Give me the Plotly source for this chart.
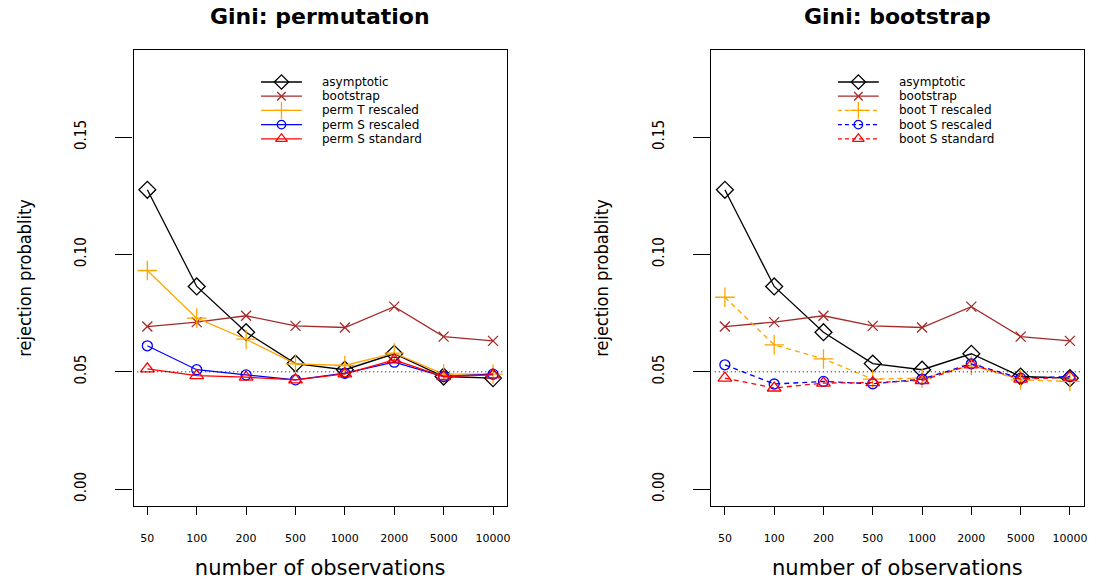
import plotly.graph_objects as go

# ---------------- data ----------------
obs_labels = ["50", "100", "200", "500", "1000", "2000", "5000", "10000"]

asymptotic      = [0.1276, 0.0864, 0.0669, 0.0535, 0.0509, 0.0577, 0.0480, 0.0473]
bootstrap       = [0.0693, 0.0712, 0.0739, 0.0696, 0.0689, 0.0778, 0.0650, 0.0632]

perm_T_rescaled = [0.0932, 0.0729, 0.0639, 0.0534, 0.0527, 0.0580, 0.0490, 0.0490]
perm_S_rescaled = [0.0611, 0.0509, 0.0487, 0.0466, 0.0494, 0.0541, 0.0480, 0.0490]
perm_S_standard = [0.0513, 0.0484, 0.0477, 0.0466, 0.0491, 0.0551, 0.0480, 0.0487]

boot_T_rescaled = [0.0818, 0.0615, 0.0555, 0.0469, 0.0473, 0.0527, 0.0466, 0.0459]
boot_S_rescaled = [0.0530, 0.0448, 0.0459, 0.0449, 0.0469, 0.0534, 0.0473, 0.0480]
boot_S_standard = [0.0473, 0.0431, 0.0452, 0.0454, 0.0463, 0.0530, 0.0469, 0.0477]

nominal_level = 0.05
y_tick_vals = [0.00, 0.05, 0.10, 0.15]
y_tick_text = ["0.00", "0.05", "0.10", "0.15"]

panel_titles = ["Gini: permutation", "Gini: bootstrap"]
x_title = "number of observations"
y_title = "rejection probablity"

# ---------------- styles ----------------
W, H = 1097, 580
BROWN = "#A52A2A"
ORANGE = "#FFA500"
styles = {
    "asym":  dict(color="black", symbol="diamond-open", size=13),
    "boot":  dict(color=BROWN, symbol="x-thin-open", size=10),
    "T":     dict(color=ORANGE, symbol="cross-thin-open", size=14),
    "Sres":  dict(color="blue", symbol="circle-open", size=10),
    "Sstd":  dict(color="red", symbol="triangle-up-open", size=12),
}

panels = [
    dict(series=[("asymptotic", asymptotic, "asym", "solid"),
                 ("bootstrap", bootstrap, "boot", "solid"),
                 ("perm T rescaled", perm_T_rescaled, "T", "solid"),
                 ("perm S rescaled", perm_S_rescaled, "Sres", "solid"),
                 ("perm S standard", perm_S_standard, "Sstd", "solid")],
         xa="x", ya="y", dom=[134 / W, 508.7 / W], leg_x=262, text_x=322),
    dict(series=[("asymptotic", asymptotic, "asym", "solid"),
                 ("bootstrap", bootstrap, "boot", "solid"),
                 ("boot T rescaled", boot_T_rescaled, "T", "5px,4px"),
                 ("boot S rescaled", boot_S_rescaled, "Sres", "5px,4px"),
                 ("boot S standard", boot_S_standard, "Sstd", "5px,4px")],
         xa="x2", ya="y2", dom=[713.7 / W, 1087.7 / W], leg_x=841, text_x=901),
]

fig = go.Figure()
LW = 1.3
leg_rows = [82.0, 96.2, 110.4, 124.6, 138.8]
annotations = []
shapes = []

for pi, p in enumerate(panels):
    for name, vals, key, dash in p["series"]:
        st = styles[key]
        fig.add_trace(go.Scatter(
            x=obs_labels, y=vals, mode="lines+markers", name=name,
            xaxis=p["xa"], yaxis=p["ya"], showlegend=False,
            line=dict(color=st["color"], width=LW, dash=dash),
            marker=dict(symbol=st["symbol"], size=st["size"], color=st["color"],
                        line=dict(color=st["color"], width=LW)),
        ))
    # nominal level reference line
    shapes.append(dict(type="line", xref=p["xa"] + " domain", yref=p["ya"],
                       x0=0.01, x1=0.995, y0=nominal_level, y1=nominal_level,
                       line=dict(color="black", width=1, dash="1px,3px")))
    # manual legend (pixel overlay axis)
    for (name, vals, key, dash), ry in zip(p["series"], leg_rows):
        st = styles[key]
        x0, x1 = p["leg_x"], p["leg_x"] + 41
        fig.add_trace(go.Scatter(
            x=[x0, (x0 + x1) / 2, x1], y=[ry, ry, ry], mode="lines",
            xaxis="x3", yaxis="y3", showlegend=False, hoverinfo="skip",
            line=dict(color=st["color"], width=LW, dash=("4px,3px" if dash != "solid" else "solid"))))
        fig.add_trace(go.Scatter(
            x=[(x0 + x1) / 2], y=[ry], mode="markers",
            xaxis="x3", yaxis="y3", showlegend=False, hoverinfo="skip",
            marker=dict(symbol=st["symbol"], size=st["size"] * 0.85, color=st["color"],
                        line=dict(color=st["color"], width=LW))))
        annotations.append(dict(x=p["text_x"] / W, y=1 - ry / H, xref="paper", yref="paper",
                                text=name, showarrow=False, xanchor="left", yanchor="middle",
                                borderpad=0,
                                font=dict(family="DejaVu Sans", size=12, color="black")))
    # panel title
    cx = (p["dom"][0] + p["dom"][1]) / 2
    annotations.append(dict(x=cx, y=1 - 16 / H, xref="paper", yref="paper",
                            text="<b>" + panel_titles[pi] + "</b>", showarrow=False,
                            xanchor="center", yanchor="middle",
                            font=dict(family="DejaVu Sans", size=22, color="black")))

ydom = [1 - 506 / H, 1 - 50 / H]
axis_common_x = dict(
    type="category", range=[-0.28, 7.28], showline=True, mirror=True, linecolor="black",
    linewidth=1.3, ticks="outside", ticklen=8, tickcolor="black", tickwidth=1.3,
    showgrid=False, zeroline=False, ticklabelstandoff=14,
    tickfont=dict(family="DejaVu Sans", size=11, color="black"),
    title=dict(text=x_title, font=dict(family="DejaVu Sans", size=21, color="black"), standoff=15),
)
axis_common_y = dict(
    range=[-0.0072, 0.1872], domain=ydom, showline=True, mirror=True, linecolor="black",
    linewidth=1.3, ticks="outside", ticklen=17, tickcolor="black", tickwidth=1.3,
    tickvals=y_tick_vals, ticktext=y_tick_text, tickangle=-90, ticklabelstandoff=23,
    showgrid=False, zeroline=False,
    tickfont=dict(family="Liberation Sans Narrow, DejaVu Sans Condensed, Liberation Sans", size=15, color="black"),
    title=dict(text=y_title, font=dict(family="Liberation Sans Narrow, DejaVu Sans Condensed, Liberation Sans", size=18, color="black"), standoff=36),
)

fig.update_layout(
    width=W, height=H, margin=dict(l=0, r=0, t=0, b=0),
    paper_bgcolor="white", plot_bgcolor="rgba(0,0,0,0)",
    xaxis=dict(domain=panels[0]["dom"], anchor="y", **axis_common_x),
    yaxis=dict(anchor="x", **axis_common_y),
    xaxis2=dict(domain=panels[1]["dom"], anchor="y2", **axis_common_x),
    yaxis2=dict(anchor="x2", **axis_common_y),
    xaxis3=dict(domain=[0, 1], range=[0, W], visible=False, anchor="y3", fixedrange=True),
    yaxis3=dict(domain=[0, 1], range=[H, 0], visible=False, anchor="x3", fixedrange=True),
    annotations=annotations, shapes=shapes, showlegend=False,
)

fig.write_html("out.html")
